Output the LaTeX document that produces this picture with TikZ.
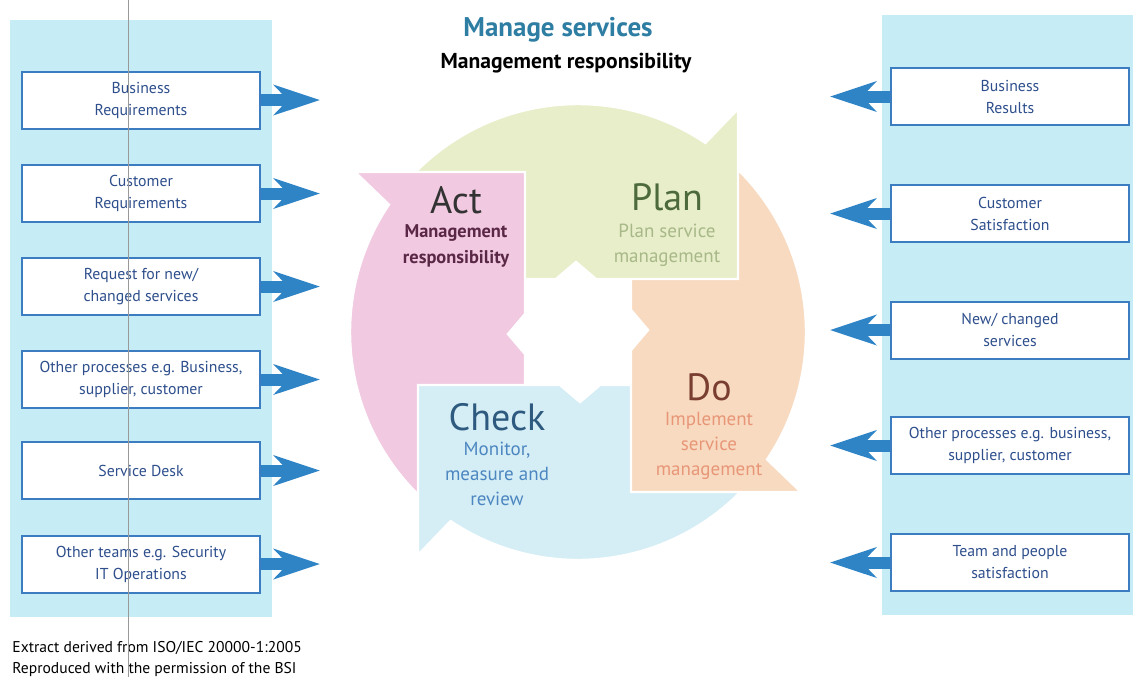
\documentclass[tikz,border=0pt]{standalone}
\usepackage{fontspec}
\setmainfont{PT Sans}
\usetikzlibrary{arrows.meta}

\definecolor{panelc}{HTML}{C6ECF5}
\definecolor{boxblue}{HTML}{3C7CC0}
\definecolor{boxtext}{HTML}{2E4F8C}
\definecolor{arrowblue}{HTML}{2F84C6}
\definecolor{actc}{HTML}{F1C9E0}
\definecolor{planc}{HTML}{E7EEC9}
\definecolor{doc}{HTML}{F8DAC0}
\definecolor{checkc}{HTML}{D5EEF5}
\definecolor{titleblue}{HTML}{2E7DA3}

% one quarter of the cycle (Act), relative to the centre
\newcommand\segment{(-223,160) -- (-53,160) -- (-53,18) -- (-70,-2) -- (-53,-22)
  -- (256.6:114pt) arc[start angle=256.6, end angle=146.03, radius=114pt] -- cycle}

\begin{document}
\begin{tikzpicture}[
  x=0.5pt, y=0.5pt,
  kasten/.style={
    draw=boxblue, line width=1pt, fill=white,
    minimum width=119pt, minimum height=28.5pt, inner sep=0pt,
    align=center, text=boxtext, font=\fontsize{7.9}{11}\selectfont
  },
  pfeil/.style={
    draw=arrowblue, line width=6pt, -{Stealth[length=23pt,width=15pt,inset=7pt]}
  },
  rand/.style={draw=white, line width=1.2pt},
  kopf/.style={anchor=base, font=\fontsize{19}{22}\selectfont},
  unter/.style={align=center, font=\fontsize{9.5}{12.5}\selectfont}
]
\useasboundingbox (0,0) rectangle (1133,-677);

% side panels
\fill[panelc] (10,-20) rectangle (272,-617);
\fill[panelc] (882,-15) rectangle (1133,-615);

% cycle
\begin{scope}[shift={(578,-332)}]
  \filldraw[fill=checkc, rand, rotate=90] \segment;
  \filldraw[fill=doc, rand, rotate=180] \segment;
  \filldraw[fill=planc, rand, rotate=-90] \segment;
  \filldraw[fill=actc, rand] \segment;
  \begin{scope}
    \clip (-250,-250) rectangle (0,250);
    \filldraw[fill=checkc, rand, rotate=90] \segment;
  \end{scope}
\end{scope}

\draw (558,-30) node [font=\bfseries\fontsize{13.5}{15}\selectfont, text=titleblue] (titel) {Manage services};
\draw (566,-63) node [font=\bfseries\fontsize{10.8}{12}\selectfont] (untertitel) {Management responsibility};

\draw (456,-213) node [kopf, text=black!80] (act) {Act};
\draw (456,-246) node [unter, font=\bfseries\fontsize{9.2}{13}\selectfont, text={rgb,255:red,90;green,40;blue,70}] (acttext) {Management\\responsibility};
\draw (667,-210) node [kopf, text={rgb,255:red,76;green,106;blue,60}] (plan) {Plan};
\draw (667,-245) node [unter, text={rgb,255:red,168;green,184;blue,136}] (plantext) {Plan service\\management};
\draw (709,-400) node [kopf, text={rgb,255:red,122;green,62;blue,48}] (do) {Do};
\draw (709,-446) node [unter, text={rgb,255:red,232;green,150;blue,120}] (dotext) {Implement\\service\\management};
\draw (497,-430) node [kopf, text={rgb,255:red,45;green,90;blue,126}] (check) {Check};
\draw (497,-474) node [unter, text={rgb,255:red,76;green,134;blue,192}] (checktext) {Monitor,\\measure and\\review};

% inputs
\draw (141,-100) node [kasten] (in1) {Business\\Requirements};
\draw (141,-193.5) node [kasten] (in2) {Customer\\Requirements};
\draw (141,-286.5) node [kasten] (in3) {Request for new/\\changed services};
\draw (141,-379.5) node [kasten] (in4) {Other processes e.g. Business,\\supplier, customer};
\draw (141,-470.5) node [kasten] (in5) {Service Desk};
\draw (141,-564) node [kasten] (in6) {Other teams e.g. Security\\IT Operations};

\coordinate (e1) at (320,-100);
\coordinate (e2) at (320,-193.5);
\coordinate (e3) at (320,-286.5);
\coordinate (e4) at (320,-379.5);
\coordinate (e5) at (320,-470.5);
\coordinate (e6) at (320,-564);

\path
  (in1) edge [pfeil] (e1)
  (in2) edge [pfeil] (e2)
  (in3) edge [pfeil] (e3)
  (in4) edge [pfeil] (e4)
  (in5) edge [pfeil] (e5)
  (in6) edge [pfeil] (e6);

% outputs
\draw (1010,-96.5) node [kasten] (out1) {Business\\Results};
\draw (1010,-213.5) node [kasten] (out2) {Customer\\Satisfaction};
\draw (1010,-330) node [kasten] (out3) {New/ changed\\services};
\draw (1010,-445.5) node [kasten] (out4) {Other processes e.g. business,\\supplier, customer};
\draw (1010,-562.5) node [kasten] (out5) {Team and people\\satisfaction};

\coordinate (a1) at (830,-96.5);
\coordinate (a2) at (830,-213.5);
\coordinate (a3) at (830,-330);
\coordinate (a4) at (830,-445.5);
\coordinate (a5) at (830,-562.5);

\path
  (out1) edge [pfeil] (a1)
  (out2) edge [pfeil] (a2)
  (out3) edge [pfeil] (a3)
  (out4) edge [pfeil] (a4)
  (out5) edge [pfeil] (a5);

\draw (12,-648) node [anchor=west, inner sep=0pt, font=\fontsize{7.8}{9}\selectfont] (quelle1) {Extract derived from ISO/IEC 20000-1:2005};
\draw (12,-669) node [anchor=west, inner sep=0pt, font=\fontsize{7.8}{9}\selectfont] (quelle2) {Reproduced with the permission of the BSI};

\draw[black!40, line width=0.5pt] (128,0) -- (128,-677);
\end{tikzpicture}
\end{document}
